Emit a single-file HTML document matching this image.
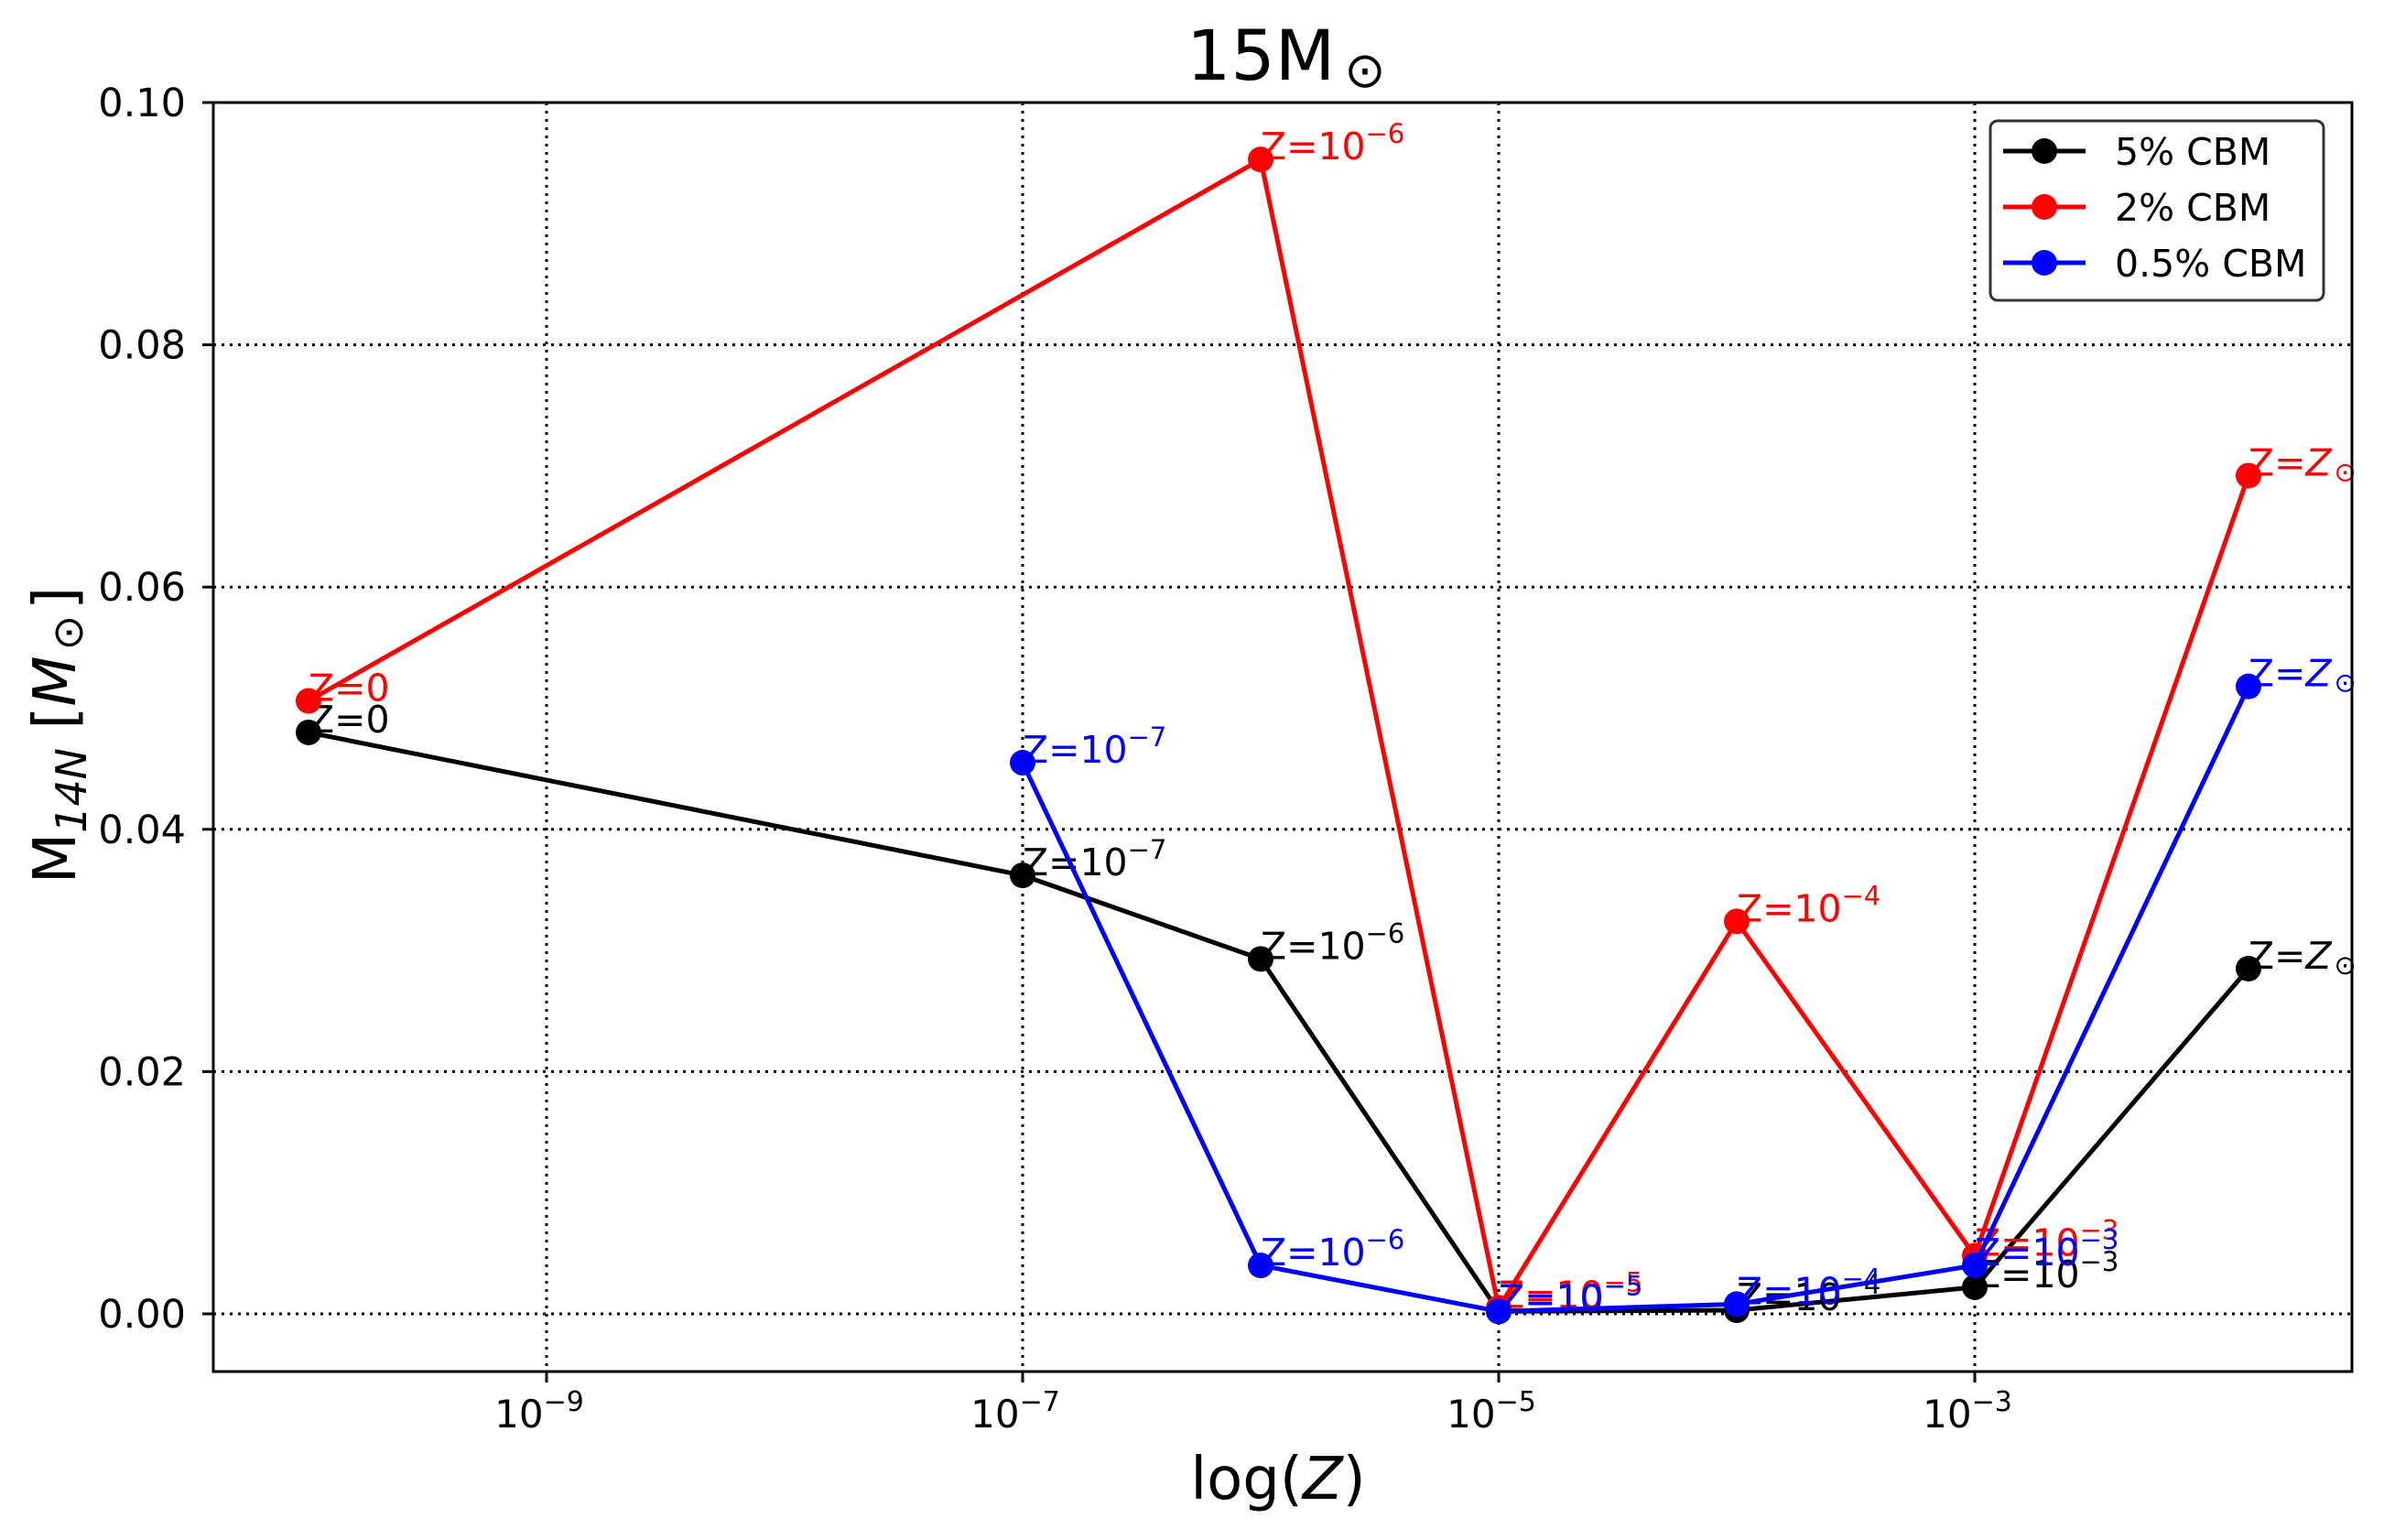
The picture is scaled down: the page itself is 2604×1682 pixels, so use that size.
<!DOCTYPE html>
<html><head><meta charset="utf-8"><style>
html,body{margin:0;padding:0;background:#fff;}
svg{display:block;font-family:"DejaVu Sans","Liberation Sans",sans-serif;}
</style></head><body>
<svg id="chart" width="2604" height="1682" viewBox="0 0 2604 1682">
<rect width="2604" height="1682" fill="#fff"/>
<g id="grid"></g>
<g id="series"></g>
<g id="axes"></g>
<text x="1296" y="87" font-size="76">15M<tspan font-size="54" dx="10" dy="8">⊙</tspan></text>
<text x="1396" y="1637" font-size="64" text-anchor="middle">log(<tspan font-style="italic">Z</tspan>)</text>
<text transform="translate(82,803) rotate(-90)" font-size="64" text-anchor="middle">M<tspan font-size="46" font-style="italic" dy="12">14N</tspan><tspan dy="-12"> [</tspan><tspan font-style="italic">M</tspan><tspan font-size="46" dx="6" dy="8">⊙</tspan><tspan dx="6" dy="-8">]</tspan></text>
<g>
<rect x="2174" y="132" width="364" height="196" rx="8" fill="#fff" fill-opacity="0.8" stroke="#333" stroke-width="3"/>
<g><line x1="2188" y1="165" x2="2278" y2="165" stroke="#000" stroke-width="5"/><circle cx="2233" cy="165" r="14" fill="#000"/><text x="2310" y="180" font-size="41">5% CBM</text></g>
<g><line x1="2188" y1="226" x2="2278" y2="226" stroke="#f00" stroke-width="5"/><circle cx="2233" cy="226" r="14" fill="#f00"/><text x="2310" y="241" font-size="41">2% CBM</text></g>
<g><line x1="2188" y1="287" x2="2278" y2="287" stroke="#00f" stroke-width="5"/><circle cx="2233" cy="287" r="14" fill="#00f"/><text x="2310" y="302" font-size="41">0.5% CBM</text></g>
</g>
</svg>
<script>
const xTickLogs=[-9,-7,-5,-3];
const yTicks=[0,0.02,0.04,0.06,0.08,0.10];
const yTickLabels=["0.00","0.02","0.04","0.06","0.08","0.10"];
const blackLogZ=[-10,-7,-6,-5,-4,-3,-1.85];
const blackVals=[0.0480,0.0362,0.0293,0.0002,0.0003,0.0022,0.0285];
const blackLabels=["0","-7","-6","-5","-4","-3","sun"];
const redLogZ=[-10,-6,-5,-4,-3,-1.85];
const redVals=[0.0506,0.0953,0.0005,0.0324,0.0048,0.0692];
const redLabels=["0","-6","-5","-4","-3","sun"];
const blueLogZ=[-7,-6,-5,-4,-3,-1.85];
const blueVals=[0.0455,0.0040,0.0002,0.0008,0.0040,0.0518];
const blueLabels=["-7","-6","-5","-4","-3","sun"];

const L=233,R=2569,T=112,B=1498;
const xs=v=>597+(v+9)*260;
const ys=v=>1435-v*13230;
const NS="http://www.w3.org/2000/svg";
function mk(tag,attrs,parent){const e=document.createElementNS(NS,tag);for(const k in attrs)e.setAttribute(k,attrs[k]);parent.appendChild(e);return e;}
const grid=document.getElementById('grid'),axes=document.getElementById('axes'),ser=document.getElementById('series');

xTickLogs.forEach(v=>{
  const x=xs(v);
  const g=mk('line',{x1:x,x2:x,y1:T,y2:B,stroke:'#000','stroke-width':3,'stroke-dasharray':'3,6'},grid);
  
  
  const t=mk('line',{x1:x,x2:x,y1:B,y2:B+12,stroke:'#000','stroke-width':3},axes);
  
  
  const tx=mk('text',{x:x-8,y:1559,'font-size':42,'text-anchor':'middle'},axes);
  
  
  tx.innerHTML='10<tspan font-size="30" dy="-18">−'+(-v)+'</tspan>';
});
yTicks.forEach((v,i)=>{
  const y=ys(v);
  const g=mk('line',{x1:L,x2:R,y1:y,y2:y,stroke:'#000','stroke-width':3,'stroke-dasharray':'3,6'},grid);
  
  
  const t=mk('line',{x1:L-12,x2:L,y1:y,y2:y,stroke:'#000','stroke-width':3},axes);
  
  
  const tx=mk('text',{x:L-30,y:y+15,'font-size':43,'text-anchor':'end'},axes);
  
  
  tx.textContent=yTickLabels[i];
});
const fr=mk('rect',{x:L,y:T,width:R-L,height:B-T,fill:'none',stroke:'#000','stroke-width':3},axes);



function series(lx,vals,labs,color,name){
  const g=mk('g',{},ser);
  
  
  const pts=lx.map((v,i)=>xs(v)+','+ys(vals[i])).join(' ');
  const pl=mk('polyline',{points:pts,fill:'none',stroke:color,'stroke-width':5,'stroke-linejoin':'round'},g);
  
  
  lx.forEach((v,i)=>{
    const c=mk('circle',{cx:xs(v),cy:ys(vals[i]),r:14,fill:color},g);
    
    
    const t=mk('text',{x:xs(v),y:ys(vals[i]),'font-size':41,fill:color},g);
    
    
    const l=labs[i];
    if(l==='0')t.textContent='Z=0';
    else if(l==='sun')t.innerHTML='Z=<tspan font-style="italic">Z</tspan><tspan font-size="29" dx="3" dy="6">⊙</tspan>';
    else t.innerHTML='Z=10<tspan font-size="29" dy="-18">−'+l.slice(1)+'</tspan>';
  });
}
series(blackLogZ,blackVals,blackLabels,'#000','series-5pct-cbm');
series(redLogZ,redVals,redLabels,'#f00','series-2pct-cbm');
series(blueLogZ,blueVals,blueLabels,'#00f','series-0.5pct-cbm');
</script>
</body></html>
